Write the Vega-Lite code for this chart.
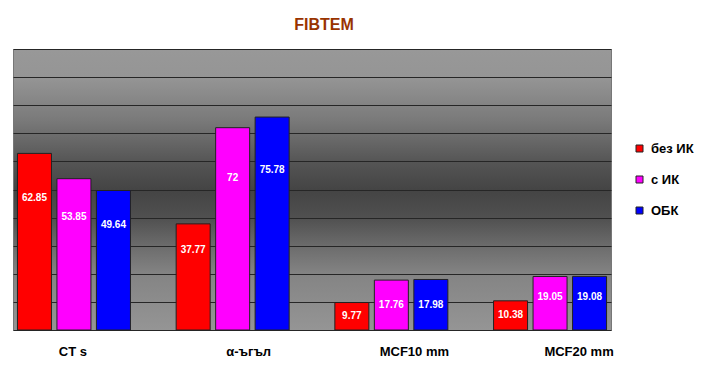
{
  "$schema": "https://vega.github.io/schema/vega-lite/v6.json",
  "width": 598,
  "height": 281,
  "autosize": "none",
  "padding": {"left": 13, "top": 49, "right": 117, "bottom": 45},
  "background": "white",
  "title": {
    "text": "FIBTEM",
    "font": "Liberation Sans",
    "fontSize": 16,
    "fontWeight": "bold",
    "color": "#993300",
    "anchor": "middle",
    "dx": 12,
    "offset": 16
  },
  "config": {
    "font": "Liberation Sans",
    "axisY": {
      "title": null,
      "labels": false,
      "ticks": false,
      "domain": false,
      "grid": true,
      "gridColor": "#262626",
      "gridWidth": 1,
      "gridOpacity": 1
    },
    "view": {
      "stroke": "#777777",
      "strokeWidth": 1,
      "fill": {
        "gradient": "linear",
        "x1": 0, "y1": 0, "x2": 0, "y2": 1,
        "stops": [
          {"offset": 0, "color": "#989898"},
          {"offset": 0.1, "color": "#959595"},
          {"offset": 0.25, "color": "#7a7a7a"},
          {"offset": 0.4, "color": "#555555"},
          {"offset": 0.5, "color": "#444444"},
          {"offset": 0.6, "color": "#505050"},
          {"offset": 0.7, "color": "#6c6c6c"},
          {"offset": 0.8, "color": "#848484"},
          {"offset": 1, "color": "#959595"}
        ]
      }
    }
  },
  "data": {
    "values": [
      {"cat": "CT s", "series": "без ИК", "value": 62.85},
      {"cat": "CT s", "series": "с ИК", "value": 53.85},
      {"cat": "CT s", "series": "ОБК", "value": 49.64},
      {"cat": "α-ъгъл", "series": "без ИК", "value": 37.77},
      {"cat": "α-ъгъл", "series": "с ИК", "value": 72},
      {"cat": "α-ъгъл", "series": "ОБК", "value": 75.78},
      {"cat": "MCF10 mm", "series": "без ИК", "value": 9.77},
      {"cat": "MCF10 mm", "series": "с ИК", "value": 17.76},
      {"cat": "MCF10 mm", "series": "ОБК", "value": 17.98},
      {"cat": "MCF20 mm", "series": "без ИК", "value": 10.38},
      {"cat": "MCF20 mm", "series": "с ИК", "value": 19.05},
      {"cat": "MCF20 mm", "series": "ОБК", "value": 19.08}
    ]
  },
  "encoding": {
    "x": {
      "field": "cat",
      "type": "nominal",
      "sort": null,
      "scale": {"paddingInner": 0.288, "paddingOuter": 0.028},
      "axis": {
        "title": null,
        "labelAngle": 0,
        "labelFont": "Liberation Sans",
        "labelFontSize": 13,
        "labelFontWeight": "bold",
        "labelColor": "#000000",
        "labelPadding": 15,
        "ticks": false,
        "domain": false,
        "labelOffset": {
          "condition": [
            {"test": "datum.value === 'α-ъгъл'", "value": 16},
            {"test": "datum.value === 'MCF10 mm'", "value": 23},
            {"test": "datum.value === 'MCF20 mm'", "value": 29}
          ],
          "value": -1
        }
      }
    },
    "xOffset": {
      "field": "series",
      "type": "nominal",
      "sort": ["без ИК", "с ИК", "ОБК"],
      "scale": {"paddingInner": 0.139, "paddingOuter": 0}
    }
  },
  "layer": [
    {
      "mark": {"type": "bar", "stroke": "#222222", "strokeWidth": 1},
      "encoding": {
        "y": {
          "field": "value",
          "type": "quantitative",
          "scale": {"domain": [0, 100], "nice": false},
          "axis": {"values": [0, 10, 20, 30, 40, 50, 60, 70, 80, 90, 100]}
        },
        "color": {
          "field": "series",
          "type": "nominal",
          "sort": ["без ИК", "с ИК", "ОБК"],
          "scale": {"domain": ["без ИК", "с ИК", "ОБК"], "range": ["#ff0000", "#ff00ff", "#0000ff"]},
          "legend": {
            "title": null,
            "orient": "none",
            "legendX": 620,
            "legendY": 93,
            "symbolType": "square",
            "symbolSize": 49,
            "symbolStrokeColor": "#222222",
            "symbolStrokeWidth": 1,
            "labelFont": "Liberation Sans",
            "labelFontSize": 13,
            "labelFontWeight": "bold",
            "labelColor": "#000000",
            "labelOffset": 5,
            "rowPadding": 17,
            "padding": 0
          }
        }
      }
    },
    {
      "transform": [
        {"calculate": "datum.value >= 30 ? datum.value * 0.75 : (datum.value >= 19 ? datum.value * 0.62 : datum.value * 0.5)", "as": "labelPos"}
      ],
      "mark": {"type": "text", "color": "#ffffff", "font": "Liberation Sans", "fontSize": 10, "fontWeight": "bold", "baseline": "middle", "align": "center"},
      "encoding": {
        "y": {
          "field": "labelPos",
          "type": "quantitative",
          "axis": {"values": [0, 10, 20, 30, 40, 50, 60, 70, 80, 90, 100]}
        },
        "text": {"field": "value", "type": "quantitative", "format": ".4~"}
      }
    }
  ]
}
